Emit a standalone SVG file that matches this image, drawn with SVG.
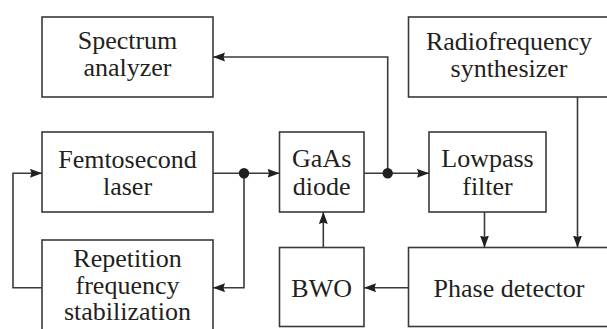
<svg xmlns="http://www.w3.org/2000/svg" width="607" height="329" viewBox="0 0 607 329">
<defs>
<marker id="arr" markerUnits="userSpaceOnUse" markerWidth="13" markerHeight="10" refX="12" refY="4.5" orient="auto">
<path d="M0,0 L12,4.5 L0,9 L1.5,4.5 z" fill="#231f20"/>
</marker>
<style>
.box{fill:#fff;stroke:#3a3a3a;stroke-width:1.6}
.t{font-family:"Liberation Serif","Times New Roman",serif;font-size:26px;fill:#231f20;text-anchor:middle}
.c{fill:none;stroke:#3a3a3a;stroke-width:1.6}
.a{marker-end:url(#arr)}
</style>
</defs>
<rect width="607" height="329" fill="#fff"/>
<g id="spectrum">
<rect class="box" x="42" y="17" width="171" height="80"/>
<text class="t" x="127.5" y="49">Spectrum</text>
<text class="t" x="127.5" y="76">analyzer</text>
</g>
<g id="rfsynth">
<rect class="box" x="408.5" y="17" width="201" height="80"/>
<text class="t" x="509" y="50">Radiofrequency</text>
<text class="t" x="509" y="77">synthesizer</text>
</g>
<g id="femto">
<rect class="box" x="42" y="132" width="171" height="80"/>
<text class="t" x="127.5" y="168">Femtosecond</text>
<text class="t" x="127.5" y="195">laser</text>
</g>
<g id="gaas">
<rect class="box" x="279.5" y="132" width="84.5" height="80"/>
<text class="t" x="321.7" y="167">GaAs</text>
<text class="t" x="321.7" y="195">diode</text>
</g>
<g id="lowpass">
<rect class="box" x="429" y="132" width="117" height="80"/>
<text class="t" x="487.5" y="167">Lowpass</text>
<text class="t" x="487.5" y="195">filter</text>
</g>
<g id="rep">
<rect class="box" x="42" y="240" width="171" height="100"/>
<text class="t" x="127.5" y="267">Repetition</text>
<text class="t" x="127.5" y="293.5">frequency</text>
<text class="t" x="127.5" y="320">stabilization</text>
</g>
<g id="bwo">
<rect class="box" x="279.5" y="247.5" width="84.5" height="79"/>
<text class="t" x="321.7" y="296.5">BWO</text>
</g>
<g id="phase">
<rect class="box" x="408.5" y="247.5" width="201" height="79"/>
<text class="t" x="509" y="296.5">Phase detector</text>
</g>
<g id="connectors">
<path class="c a" d="M213,173.3 H279.5"/>
<path class="c a" d="M244,173.3 V287.7 H213"/>
<path class="c a" d="M42,287.7 H13 V173.3 H42"/>
<path class="c a" d="M364,173.3 H429"/>
<path class="c a" d="M387.7,173.3 V57 H213"/>
<path class="c a" d="M484.5,212 V247.5"/>
<path class="c a" d="M577.5,97 V247.5"/>
<path class="c a" d="M408.5,287.7 H364"/>
<path class="c a" d="M323.3,247.5 V212"/>
<circle cx="244" cy="173.3" r="5.2" fill="#231f20"/>
<circle cx="387.7" cy="173.3" r="5.2" fill="#231f20"/>
</g>
</svg>
